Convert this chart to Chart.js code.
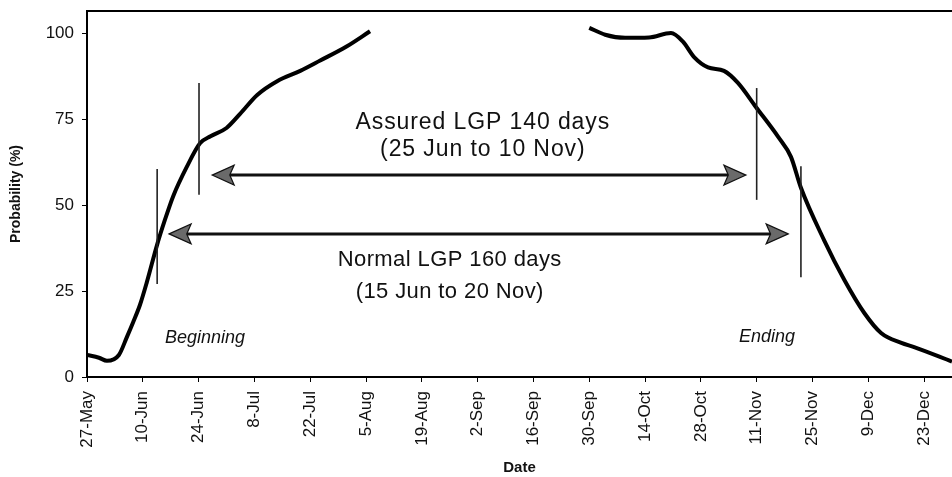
<!DOCTYPE html>
<html>
<head>
<meta charset="utf-8">
<script src="https://cdn.jsdelivr.net/npm/chart.js"></script>
<style>
  body { margin: 0; background: #fff; }
</style>
</head>
<body>
<canvas id="lgpChart" width="952" height="477"></canvas>
<script>
// days counted from 27-May
var tickDays = [0, 14, 28, 42, 56, 70, 84, 98, 112, 126, 140, 154, 168, 182, 196, 210];
var tickLabels = ['27-May', '10-Jun', '24-Jun', '8-Jul', '22-Jul', '5-Aug', '19-Aug', '2-Sep',
                  '16-Sep', '30-Sep', '14-Oct', '28-Oct', '11-Nov', '25-Nov', '9-Dec', '23-Dec'];
var yTicks = [0, 25, 50, 75, 100];

// beginning of season (rising probability)
var riseDays = [0, 3, 5, 8, 10, 11.6, 13.3, 15, 17.6, 19.5, 21.6, 25, 28.4, 31, 35, 38.4, 42.7, 47.7, 53.5, 58.5, 65, 71];
var riseVals = [6.4, 5.6, 4.7, 6.4, 11.6, 16, 21, 27.5, 38.5, 45.5, 52.5, 61, 68, 70, 72.4, 76.5, 82, 86, 89, 92, 96, 100.5];

// end of season (falling probability)
var fallDays = [126, 130, 135, 141, 146.5, 149.5, 152.3, 155.8, 159.8, 163.3, 167.8, 173.4, 176.6, 179.1,
                184.9, 190, 195, 199.2, 204.3, 207.5, 217];
var fallVals = [101.5, 99.5, 98.6, 98.7, 100, 97.5, 93, 90, 89, 85.5, 78.5, 69.8, 64, 55,
                39.8, 28.2, 18.6, 12.8, 9.9, 8.7, 4.5];

// annotations, in data units
var markerDays = [17.6, 28.1, 168, 179.1];
var markerLow = [27, 53, 51.5, 29];
var markerHigh = [60.5, 85.5, 84, 61.3];

var arrowFrom = [31.4, 20.6];
var arrowTo = [165.3, 175.9];
var arrowLevel = [58.7, 41.6];

var notes = [
    { text: 'Assured LGP 140 days', day: 99.3, val: 73.8, font: '23px "Liberation Sans", Arial', spacing: '0.9px' },
    { text: '(25 Jun to 10 Nov)', day: 99.3, val: 66, font: '23px "Liberation Sans", Arial', spacing: '0.9px' },
    { text: 'Normal LGP 160 days', day: 91, val: 34, font: '22px "Liberation Sans", Arial', spacing: '0.4px' },
    { text: '(15 Jun to 20 Nov)', day: 91, val: 24.7, font: '22px "Liberation Sans", Arial', spacing: '0.4px' },
    { text: 'Beginning', day: 29.6, val: 11.3, font: 'italic 18px "Liberation Sans", Arial', spacing: '0px' },
    { text: 'Ending', day: 170.6, val: 11.6, font: 'italic 18px "Liberation Sans", Arial', spacing: '0px' }
];

function toPoints(xs, ys) {
    return xs.map(function (d, i) { return { x: d, y: ys[i] }; });
}

function arrowHead(c, x, y, dir) {
    var len = 22, half = 10;
    c.beginPath();
    c.moveTo(x, y);
    c.lineTo(x - dir * len, y - half);
    c.lineTo(x - dir * len * 0.8, y);
    c.lineTo(x - dir * len, y + half);
    c.closePath();
    c.fillStyle = '#6a6a6a';
    c.fill();
    c.lineWidth = 1.2;
    c.strokeStyle = '#111';
    c.stroke();
}

var annotate = {
    id: 'annotate',
    afterDatasetsDraw: function (chart) {
        var c = chart.ctx;
        var xs = chart.scales.x, ys = chart.scales.y;
        var area = chart.chartArea;
        c.save();

        // top frame line
        c.strokeStyle = '#000';
        c.lineWidth = 2;
        c.beginPath();
        c.moveTo(area.left, area.top);
        c.lineTo(area.right, area.top);
        c.stroke();

        // vertical markers
        c.lineWidth = 1.6;
        c.strokeStyle = '#222';
        markerDays.forEach(function (d, i) {
            var px = xs.getPixelForValue(d);
            c.beginPath();
            c.moveTo(px, ys.getPixelForValue(markerLow[i]));
            c.lineTo(px, ys.getPixelForValue(markerHigh[i]));
            c.stroke();
        });

        // double arrows
        arrowFrom.forEach(function (d, i) {
            var x1 = xs.getPixelForValue(d);
            var x2 = xs.getPixelForValue(arrowTo[i]);
            var py = ys.getPixelForValue(arrowLevel[i]);
            c.lineWidth = 3;
            c.strokeStyle = '#111';
            c.beginPath();
            c.moveTo(x1 + 15, py);
            c.lineTo(x2 - 15, py);
            c.stroke();
            arrowHead(c, x1, py, -1);
            arrowHead(c, x2, py, 1);
        });

        // texts
        c.fillStyle = '#111';
        c.textAlign = 'center';
        c.textBaseline = 'middle';
        notes.forEach(function (n) {
            c.font = n.font;
            c.letterSpacing = n.spacing;
            c.fillText(n.text, xs.getPixelForValue(n.day), ys.getPixelForValue(n.val));
        });
        c.restore();
    }
};

var ctx = document.getElementById('lgpChart').getContext('2d');
var lgpChart = new Chart(ctx, {
    type: 'line',
    data: {
        datasets: [{
            label: 'Beginning',
            data: toPoints(riseDays, riseVals),
            borderColor: '#000',
            borderWidth: 4,
            pointRadius: 0,
            cubicInterpolationMode: 'monotone'
        }, {
            label: 'Ending',
            data: toPoints(fallDays, fallVals),
            borderColor: '#000',
            borderWidth: 4,
            pointRadius: 0,
            cubicInterpolationMode: 'monotone'
        }]
    },
    options: {
        responsive: false,
        animation: false,
        layout: { padding: { top: 11, right: 0, left: 0, bottom: 0 } },
        plugins: {
            legend: { display: false },
            tooltip: { enabled: false }
        },
        scales: {
            x: {
                type: 'linear',
                min: 0,
                max: 217,
                afterBuildTicks: function (axis) {
                    axis.ticks = tickDays.map(function (v) { return { value: v }; });
                },
                afterFit: function (axis) {
                    axis.height = 100;
                    axis.paddingLeft = 0;
                    axis.paddingRight = 0;
                },
                grid: { drawOnChartArea: false, tickLength: 5, color: '#000' },
                border: { color: '#000', width: 2 },
                ticks: {
                    autoSkip: false,
                    minRotation: 90,
                    maxRotation: 90,
                    padding: 9,
                    color: '#111',
                    font: { family: '"Liberation Sans", Arial', size: 17 },
                    callback: function (v) { return tickLabels[tickDays.indexOf(v)]; }
                },
                title: {
                    display: true,
                    text: 'Date',
                    color: '#111',
                    padding: { top: 0, bottom: 0 },
                    font: { family: '"Liberation Sans", Arial', size: 15, weight: 'bold' }
                }
            },
            y: {
                min: 0,
                max: 106.4,
                afterBuildTicks: function (axis) {
                    axis.ticks = yTicks.map(function (v) { return { value: v }; });
                },
                afterFit: function (axis) {
                    axis.width = 87;
                    axis.paddingTop = 0;
                    axis.paddingBottom = 0;
                },
                grid: { drawOnChartArea: false, tickLength: 5, color: '#000' },
                border: { color: '#000', width: 2 },
                ticks: {
                    padding: 8,
                    color: '#111',
                    font: { family: '"Liberation Sans", Arial', size: 17 }
                },
                title: {
                    display: true,
                    text: 'Probability (%)',
                    color: '#111',
                    padding: { top: 8, bottom: 0 },
                    font: { family: '"Liberation Sans", Arial', size: 14, weight: 'bold' }
                }
            }
        }
    },
    plugins: [annotate]
});
</script>
</body>
</html>
